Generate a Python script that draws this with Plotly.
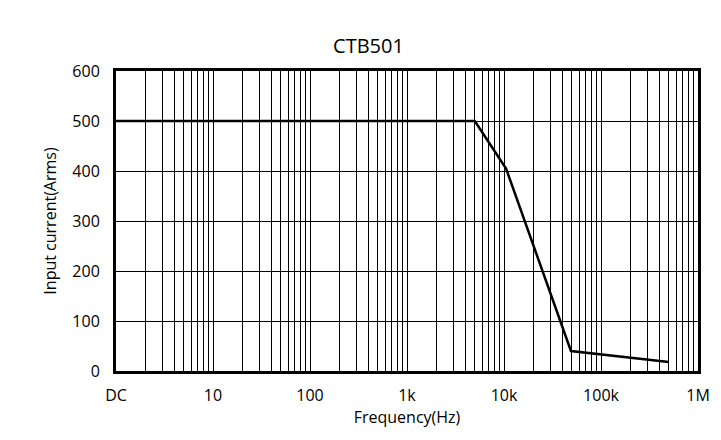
import plotly.graph_objects as go

freq = [1, 5000, 10500, 49000, 500000]
current = [500, 500, 405, 40, 18]
xtick_vals = [1, 10, 100, 1000, 10000, 100000, 1000000]
xtick_text = ["DC", "10", "100", "1k", "10k", "100k", "1M"]
ytick_vals = [0, 100, 200, 300, 400, 500, 600]

fig = go.Figure()
fig.add_trace(go.Scatter(x=freq, y=current, mode="lines",
                         line=dict(color="black", width=2.5), showlegend=False))
minor = [m * 10**d for d in range(6) for m in range(2, 10)]
fig.update_layout(
    width=721, height=440, paper_bgcolor="white", plot_bgcolor="white",
    margin=dict(l=108, r=31, t=63, b=77),
    title=dict(text="CTB501", x=0.5, y=0.93, xanchor="center",
               font=dict(family="Open Sans", size=20, color="black")),
    font=dict(family="Open Sans", color="black"),
)
fig.update_xaxes(type="log", range=[0, 6], tickvals=xtick_vals, ticktext=xtick_text,
                 showgrid=True, gridcolor="black", gridwidth=1, automargin=False,
                 minor=dict(tickvals=minor, showgrid=True, gridcolor="black", gridwidth=0.8, ticks=""),
                 showline=True, linecolor="black", linewidth=3, mirror=True,
                 tickfont=dict(size=16), ticks="", ticklabelstandoff=8,
                 title=dict(text="Frequency(Hz)", font=dict(size=16), standoff=6))
fig.update_yaxes(range=[0, 600], tickvals=ytick_vals, showgrid=True, gridcolor="black",
                 gridwidth=1, showline=True, linecolor="black", linewidth=3, mirror=True,
                 zeroline=False, tickfont=dict(size=16), ticks="", automargin=False,
                 ticklabelstandoff=10,
                 title=dict(text="Input current(Arms)", font=dict(size=16), standoff=12))
fig.write_html("out.html")
